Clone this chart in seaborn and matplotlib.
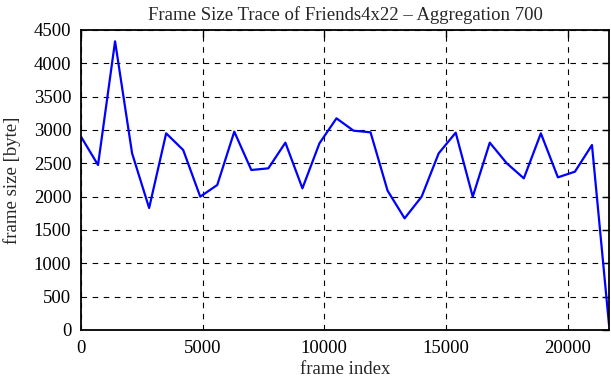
import numpy as np
import pandas as pd
import matplotlib
matplotlib.use("Agg")
import matplotlib.pyplot as plt
import seaborn as sns

# frame index (aggregation step 700) and aggregated frame size
frame_index = list(range(0, 21701, 700))
frame_size = [2900, 2475, 4330, 2650, 1830, 2950, 2700, 2000,
              2175, 2975, 2400, 2425, 2810, 2125, 2800, 3175,
              2990, 2965, 2090, 1675, 2000, 2650, 2960, 2000,
              2810, 2500, 2275, 2950, 2290, 2375, 2775, 80]

df = pd.DataFrame({"frame index": frame_index, "frame size": frame_size})

sns.set_style("white")
plt.rcParams['font.family'] = ['Liberation Serif', 'DejaVu Serif']
plt.rcParams['font.size'] = 13.5

fig = plt.figure(figsize=(6.11, 3.80), dpi=100)
ax = fig.add_axes([81 / 611, 50 / 380, 528 / 611, 300 / 380])

sns.lineplot(x="frame index", y="frame size", data=df, color="#0000ff",
             linewidth=1.6, ax=ax)

ax.set_xlim(0, 21700)
ax.set_ylim(0, 4500)
ax.set_xticks([0, 5000, 10000, 15000, 20000])
ax.set_yticks(range(0, 4501, 500))
ax.grid(True, color="black", linestyle=(0, (5, 5)), linewidth=0.8)
ax.tick_params(direction="in", length=5, width=1, top=True, right=True,
               labelsize=13.5, colors="black")
ax.tick_params(axis="y", pad=7)
ax.tick_params(axis="x", pad=7)
for s in ax.spines.values():
    s.set_color("black")
    s.set_linewidth(1.3)

ax.set_title("Frame Size Trace of Friends4x22 – Aggregation 700", fontsize=13.5, pad=7)
ax.set_xlabel("frame index", fontsize=13.5, labelpad=3)
ax.set_ylabel("frame size [byte]", fontsize=13.5, labelpad=9)

fig.savefig("out.png", dpi=100)
